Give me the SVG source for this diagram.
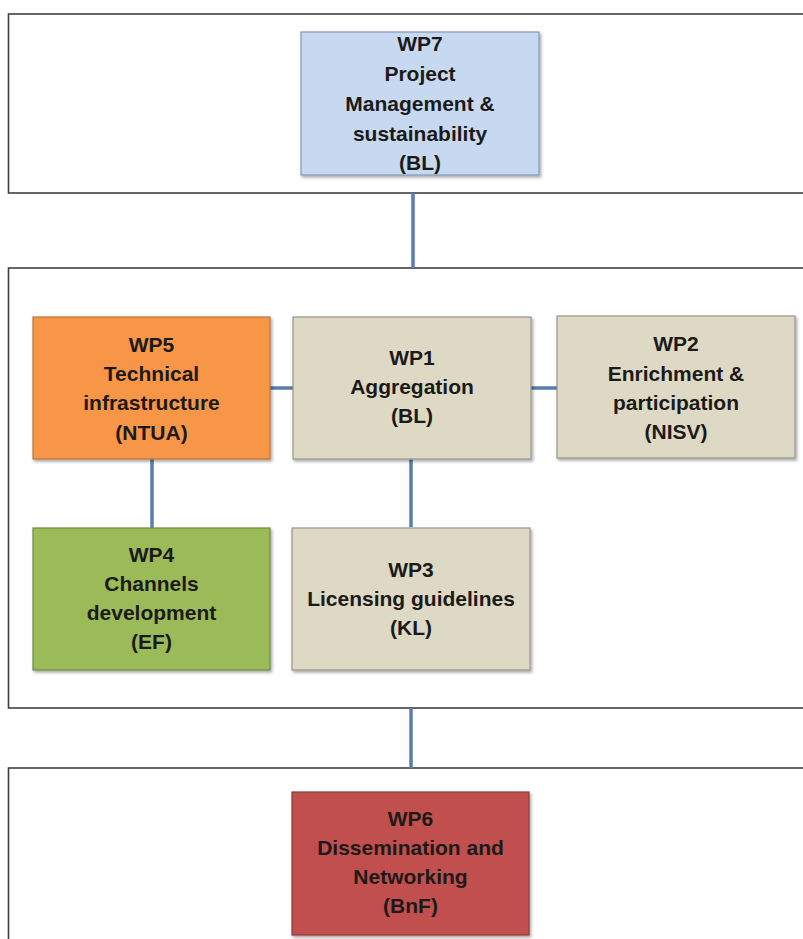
<svg xmlns="http://www.w3.org/2000/svg" width="803" height="939" viewBox="0 0 803 939">
<style>
  .frame { fill: #ffffff; stroke: #404040; stroke-width: 1.6; }
  .box { stroke-width: 1.2; filter: url(#shadow); }
  .blue { fill: #c6d9f0; stroke: #8096b4; }
  .orange { fill: #f79646; stroke: #c27438; }
  .tan { fill: #ddd9c4; stroke: #9a9686; }
  .green { fill: #9bbb59; stroke: #6f8a3e; }
  .red { fill: #c0504d; stroke: #8e3a38; }
  .conn { stroke: #5a7db0; stroke-width: 3.5; fill: none; }
  text { font-family: "Liberation Sans", Arial, sans-serif; font-weight: bold; font-size: 21px; fill: #1c1a18; text-anchor: middle; }
</style>
<defs>
  <filter id="shadow" x="-10%" y="-10%" width="130%" height="130%">
    <feDropShadow dx="1.5" dy="2" stdDeviation="1.5" flood-color="#000000" flood-opacity="0.35"/>
  </filter>
</defs>
<rect width="803" height="939" fill="#ffffff"/>

<g id="frames">
  <rect class="frame" x="8.5" y="14" width="900" height="179"/>
  <rect class="frame" x="8.5" y="268" width="900" height="440"/>
  <rect class="frame" x="8.5" y="768" width="900" height="300"/>
</g>

<g id="connectors">
  <line class="conn" x1="413" y1="193" x2="413" y2="268"/>
  <line class="conn" x1="270" y1="388" x2="293" y2="388"/>
  <line class="conn" x1="531" y1="388" x2="557" y2="388"/>
  <line class="conn" x1="152" y1="459" x2="152" y2="528"/>
  <line class="conn" x1="411" y1="459" x2="411" y2="527"/>
  <line class="conn" x1="411" y1="708" x2="411" y2="768"/>
</g>

<g id="wp7">
  <rect class="box blue" x="301" y="32" width="238" height="143"/>
  <text x="420" y="51">WP7</text>
  <text x="420" y="81">Project</text>
  <text x="420" y="111">Management &amp;</text>
  <text x="420" y="141">sustainability</text>
  <text x="420" y="170">(BL)</text>
</g>

<g id="wp5">
  <rect class="box orange" x="33" y="317" width="237" height="142"/>
  <text x="151.5" y="352">WP5</text>
  <text x="151.5" y="381">Technical</text>
  <text x="151.5" y="410">infrastructure</text>
  <text x="151.5" y="440">(NTUA)</text>
</g>

<g id="wp1">
  <rect class="box tan" x="293" y="317" width="238" height="142"/>
  <text x="412" y="365">WP1</text>
  <text x="412" y="394">Aggregation</text>
  <text x="412" y="423">(BL)</text>
</g>

<g id="wp2">
  <rect class="box tan" x="557" y="316" width="238" height="142"/>
  <text x="676" y="351">WP2</text>
  <text x="676" y="381">Enrichment  &amp;</text>
  <text x="676" y="410">participation</text>
  <text x="676" y="439">(NISV)</text>
</g>

<g id="wp4">
  <rect class="box green" x="33" y="528" width="237" height="142"/>
  <text x="151.5" y="562">WP4</text>
  <text x="151.5" y="591">Channels</text>
  <text x="151.5" y="620">development</text>
  <text x="151.5" y="649">(EF)</text>
</g>

<g id="wp3">
  <rect class="box tan" x="292" y="528" width="238" height="142"/>
  <text x="411" y="577">WP3</text>
  <text x="411" y="606">Licensing guidelines</text>
  <text x="411" y="635">(KL)</text>
</g>

<g id="wp6">
  <rect class="box red" x="292" y="792" width="237" height="143"/>
  <text x="410.5" y="826">WP6</text>
  <text x="410.5" y="855">Dissemination  and</text>
  <text x="410.5" y="884">Networking</text>
  <text x="410.5" y="913">(BnF)</text>
</g>
</svg>
